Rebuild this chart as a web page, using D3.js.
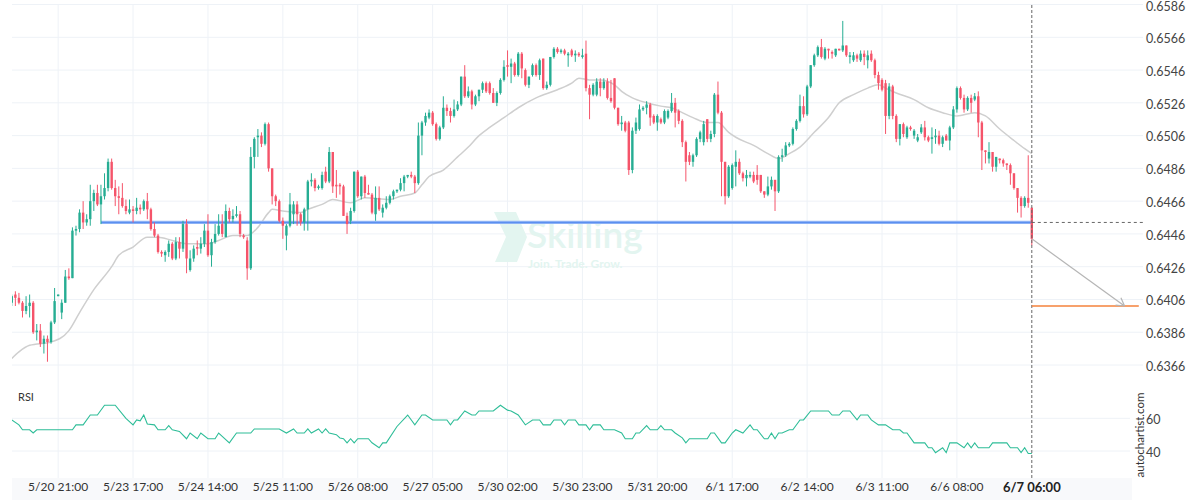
<!DOCTYPE html>
<html><head><meta charset="utf-8">
<script src="https://cdn.jsdelivr.net/npm/d3@7"></script>
<style>
body{margin:0;background:#fff}
svg{display:block}
text{font-family:Lato,"Open Sans",sans-serif}
</style>
</head><body>
<svg id="chart" width="1200" height="500"></svg>
<script>
// ---------- data ----------
const xLabels = ["5/20 21:00","5/23 17:00","5/24 14:00","5/25 11:00","5/26 08:00","5/27 05:00","5/30 02:00","5/30 23:00","5/31 20:00","6/1 17:00","6/2 14:00","6/3 11:00","6/6 08:00","6/7 06:00"];
const xLabelIdx = [13,34,55,76,97,118,139,160,181,202,223,244,265,286];
const priceTicks = [0.6586,0.6566,0.6546,0.6526,0.6506,0.6486,0.6466,0.6446,0.6426,0.6406,0.6386,0.6366];
const rsiTicks = [60,40];

const open = [
.6404,.6409,.6407,.6404,.6399,.6402,.6404,.6386,.6387,.6379,
.6382,.6380,.6392,.6408,.6398,.6404,.6420,.6419,.6448,.6449,
.6459,.6453,.6455,.6466,.6471,.6464,.6469,.6474,.6490,.6474,
.6469,.6468,.6463,.6459,.6461,.6460,.6462,.6461,.6466,.6461,
.6449,.6445,.6435,.6433,.6435,.6440,.6431,.6441,.6437,.6452,
.6424,.6431,.6438,.6437,.6440,.6448,.6433,.6441,.6446,.6452,
.6444,.6460,.6455,.6457,.6458,.6445,.6442,.6425,.6493,.6505,
.6506,.6501,.6513,.6486,.6469,.6466,.6454,.6445,.6451,.6458,
.6464,.6458,.6453,.6461,.6478,.6479,.6474,.6474,.6484,.6478,
.6496,.6476,.6476,.6475,.6457,.6454,.6460,.6484,.6469,.6481,
.6471,.6470,.6458,.6468,.6459,.6462,.6465,.6469,.6472,.6473,
.6477,.6481,.6482,.6481,.6477,.6506,.6514,.6517,.6520,.6513,
.6504,.6511,.6523,.6521,.6518,.6522,.6525,.6542,.6530,.6533,
.6525,.6530,.6534,.6538,.6538,.6532,.6526,.6532,.6540,.6549,
.6548,.6550,.6543,.6556,.6546,.6537,.6543,.6549,.6543,.6553,
.6535,.6537,.6554,.6559,.6557,.6558,.6555,.6558,.6555,.6556,
.6554,.6556,.6535,.6531,.6531,.6539,.6535,.6539,.6529,.6541,
.6523,.6513,.6514,.6514,.6485,.6509,.6510,.6522,.6523,.6525,
.6518,.6514,.6516,.6514,.6517,.6521,.6526,.6521,.6515,.6502,
.6494,.6490,.6494,.6504,.6502,.6516,.6504,.6507,.6531,.6520,
.6490,.6469,.6474,.6487,.6490,.6483,.6480,.6481,.6482,.6482,
.6482,.6472,.6470,.6475,.6479,.6472,.6493,.6494,.6500,.6501,
.6510,.6515,.6524,.6519,.6536,.6549,.6555,.6560,.6553,.6559,
.6557,.6555,.6559,.6558,.6561,.6554,.6552,.6555,.6552,.6556,
.6552,.6556,.6552,.6543,.6540,.6538,.6518,.6536,.6518,.6504,
.6513,.6505,.6511,.6506,.6503,.6508,.6511,.6505,.6504,.6505,
.6506,.6501,.6506,.6503,.6511,.6522,.6535,.6529,.6522,.6529,
.6528,.6530,.6514,.6497,.6492,.6496,.6487,.6492,.6491,.6489,
.6488,.6483,.6474,.6468,.6463,.6468,.6462];
const high = [
.6409,.6411,.6410,.6405,.6408,.6409,.6405,.6391,.6391,.6384,
.6384,.6393,.6413,.6409,.6406,.6424,.6425,.6450,.6451,.6461,
.6466,.6458,.6476,.6473,.6476,.6476,.6483,.6492,.6492,.6479,
.6475,.6477,.6467,.6467,.6463,.6468,.6464,.6467,.6471,.6462,
.6453,.6446,.6436,.6436,.6442,.6441,.6444,.6444,.6454,.6455,
.6436,.6439,.6442,.6444,.6452,.6458,.6443,.6452,.6458,.6458,
.6464,.6462,.6461,.6463,.6460,.6446,.6444,.6499,.6505,.6510,
.6508,.6514,.6514,.6486,.6470,.6467,.6456,.6452,.6471,.6466,
.6466,.6459,.6462,.6479,.6483,.6480,.6476,.6484,.6487,.6499,
.6496,.6485,.6477,.6476,.6459,.6462,.6484,.6485,.6481,.6482,
.6476,.6471,.6475,.6475,.6464,.6469,.6470,.6473,.6473,.6480,
.6482,.6482,.6484,.6482,.6514,.6515,.6520,.6522,.6521,.6514,
.6512,.6530,.6525,.6523,.6528,.6527,.6542,.6549,.6536,.6534,
.6531,.6534,.6539,.6539,.6539,.6535,.6533,.6541,.6552,.6558,
.6553,.6551,.6557,.6557,.6547,.6542,.6550,.6550,.6553,.6553,
.6539,.6554,.6560,.6560,.6559,.6559,.6557,.6559,.6558,.6557,
.6559,.6564,.6537,.6538,.6541,.6541,.6541,.6541,.6540,.6541,
.6523,.6518,.6515,.6515,.6511,.6517,.6525,.6524,.6527,.6526,
.6519,.6519,.6517,.6522,.6522,.6532,.6529,.6522,.6516,.6503,
.6496,.6495,.6505,.6509,.6515,.6516,.6509,.6532,.6539,.6521,
.6490,.6488,.6489,.6497,.6492,.6484,.6485,.6484,.6484,.6488,
.6482,.6472,.6481,.6481,.6479,.6494,.6498,.6502,.6502,.6511,
.6516,.6531,.6530,.6537,.6549,.6556,.6561,.6565,.6560,.6559,
.6558,.6559,.6559,.6576,.6561,.6557,.6557,.6556,.6558,.6558,
.6558,.6558,.6553,.6545,.6541,.6540,.6538,.6537,.6519,.6513,
.6514,.6512,.6512,.6510,.6507,.6513,.6515,.6506,.6511,.6510,
.6509,.6506,.6507,.6512,.6524,.6536,.6536,.6531,.6530,.6531,
.6532,.6533,.6515,.6497,.6502,.6496,.6493,.6492,.6492,.6489,
.6489,.6483,.6474,.6469,.6469,.6494,.6462];
const low = [
.6402,.6402,.6403,.6395,.6397,.6395,.6385,.6381,.6377,.6373,
.6368,.6379,.6391,.6408,.6394,.6404,.6418,.6419,.6445,.6447,
.6449,.6451,.6451,.6460,.6463,.6452,.6467,.6472,.6473,.6463,
.6458,.6462,.6458,.6458,.6453,.6458,.6458,.6460,.6455,.6448,
.6444,.6434,.6432,.6429,.6432,.6430,.6430,.6431,.6435,.6422,
.6423,.6429,.6433,.6434,.6438,.6432,.6426,.6440,.6445,.6444,
.6444,.6453,.6453,.6456,.6444,.6443,.6418,.6424,.6486,.6493,
.6499,.6500,.6484,.6464,.6463,.6453,.6443,.6436,.6450,.6452,
.6451,.6451,.6448,.6448,.6475,.6472,.6473,.6473,.6477,.6477,
.6471,.6468,.6470,.6457,.6446,.6452,.6459,.6468,.6467,.6468,
.6470,.6458,.6454,.6460,.6456,.6461,.6464,.6467,.6471,.6472,
.6472,.6480,.6480,.6471,.6476,.6494,.6512,.6516,.6512,.6503,
.6503,.6510,.6518,.6514,.6517,.6521,.6524,.6529,.6529,.6522,
.6524,.6527,.6532,.6532,.6531,.6526,.6524,.6531,.6539,.6542,
.6538,.6542,.6542,.6541,.6536,.6535,.6542,.6542,.6540,.6534,
.6534,.6536,.6553,.6556,.6556,.6555,.6548,.6554,.6551,.6554,
.6553,.6533,.6516,.6530,.6530,.6530,.6534,.6528,.6526,.6522,
.6512,.6509,.6508,.6482,.6483,.6507,.6509,.6521,.6519,.6512,
.6513,.6509,.6513,.6513,.6516,.6520,.6511,.6513,.6499,.6478,
.6488,.6487,.6493,.6502,.6500,.6502,.6502,.6505,.6519,.6469,
.6464,.6468,.6473,.6475,.6482,.6478,.6475,.6480,.6477,.6476,
.6471,.6468,.6469,.6473,.6460,.6471,.6490,.6493,.6499,.6500,
.6509,.6514,.6517,.6518,.6535,.6548,.6554,.6553,.6552,.6553,
.6553,.6554,.6558,.6557,.6554,.6550,.6551,.6551,.6551,.6549,
.6547,.6551,.6541,.6534,.6533,.6507,.6516,.6516,.6502,.6500,
.6505,.6504,.6509,.6504,.6502,.6507,.6503,.6502,.6495,.6501,
.6500,.6499,.6503,.6497,.6510,.6520,.6528,.6520,.6521,.6520,
.6527,.6505,.6485,.6489,.6489,.6484,.6484,.6489,.6487,.6485,
.6476,.6473,.6459,.6456,.6462,.6462,.6439];
const close = [
.6408,.6407,.6404,.6399,.6402,.6404,.6386,.6387,.6379,.6382,
.6380,.6392,.6405,.6409,.6404,.6420,.6419,.6448,.6449,.6459,
.6453,.6455,.6466,.6471,.6464,.6469,.6474,.6490,.6474,.6469,
.6468,.6463,.6460,.6461,.6460,.6462,.6461,.6466,.6461,.6449,
.6445,.6435,.6434,.6435,.6440,.6431,.6441,.6437,.6452,.6431,
.6431,.6437,.6437,.6440,.6448,.6433,.6441,.6446,.6451,.6446,
.6460,.6455,.6457,.6458,.6446,.6444,.6425,.6493,.6504,.6506,
.6501,.6513,.6486,.6469,.6466,.6454,.6451,.6451,.6464,.6464,
.6458,.6453,.6461,.6478,.6479,.6474,.6475,.6482,.6478,.6496,
.6475,.6475,.6475,.6457,.6452,.6460,.6484,.6469,.6481,.6471,
.6470,.6459,.6468,.6461,.6462,.6465,.6469,.6472,.6473,.6477,
.6481,.6482,.6481,.6477,.6506,.6514,.6518,.6520,.6513,.6504,
.6511,.6523,.6521,.6518,.6522,.6525,.6542,.6530,.6533,.6525,
.6530,.6534,.6538,.6533,.6532,.6526,.6532,.6540,.6548,.6548,
.6550,.6543,.6556,.6547,.6537,.6542,.6549,.6543,.6552,.6535,
.6537,.6554,.6559,.6557,.6558,.6556,.6556,.6555,.6556,.6555,
.6555,.6535,.6531,.6537,.6539,.6535,.6539,.6529,.6527,.6523,
.6513,.6514,.6509,.6485,.6509,.6514,.6522,.6523,.6525,.6517,
.6514,.6518,.6514,.6521,.6521,.6526,.6520,.6515,.6502,.6490,
.6490,.6494,.6504,.6508,.6513,.6504,.6507,.6531,.6520,.6490,
.6469,.6487,.6488,.6490,.6483,.6480,.6482,.6482,.6478,.6479,
.6472,.6470,.6475,.6479,.6472,.6493,.6494,.6500,.6501,.6510,
.6515,.6524,.6519,.6536,.6549,.6555,.6560,.6554,.6559,.6558,
.6556,.6559,.6558,.6561,.6555,.6555,.6555,.6553,.6556,.6554,
.6555,.6552,.6543,.6538,.6534,.6518,.6536,.6518,.6504,.6513,
.6507,.6511,.6510,.6509,.6505,.6511,.6505,.6503,.6505,.6506,
.6501,.6505,.6503,.6511,.6522,.6535,.6529,.6522,.6529,.6526,
.6530,.6514,.6497,.6496,.6496,.6487,.6493,.6491,.6489,.6488,
.6483,.6474,.6468,.6463,.6468,.6465,.6443];

// moving average (read at these candle indices)
const maIdx = [0,2,5,11,16,19,23,28,30,34,38,41,45,49,55,58,62,66,69,72,73,76,81,83,87,90,95,99,106,109,113,115,117,121,125,128,131,134,138,142,147,153,157,159,162,165,169,171,174,178,182,185,188,191,195,198,201,203,208,212,215,218,221,225,229,232,236,240,243,245,248,253,257,261,265,270,273,277,281,284,286];
const maVal = [.6370,.6374,.6378,.6380,.6387,.6398,.6412,.6426,.6433,.6438,.6444,.6444,.6442,.6440,.6440,.6442,.6445,.6445,.6450,.6459,.6461,.6460,.6459,.6461,.6464,.6467,.6465,.6468,.6467,.6469,.6471,.6476,.6481,.6485,.6493,.6499,.6506,.6511,.6517,.6523,.6529,.6534,.6538,.6541,.6540,.6540,.6537,.6533,.6529,.6526,.6524,.6523,.6520,.6517,.6514,.6514,.6508,.6505,.6500,.6495,.6492,.6495,.6499,.6508,.6517,.6526,.6531,.6535,.6537,.6535,.6532,.6528,.6523,.6520,.6518,.6520,.6518,.6510,.6503,.6498,.6495];

// RSI (read at these candle indices)
const rsiIdx = [0,2,3,5,6,7,13,17,18,20,22,24,26,29,32,34,35,36,37,38,40,41,43,44,45,47,49,50,52,53,55,57,58,59,61,63,67,68,75,77,79,80,82,83,84,86,87,88,89,91,92,93,94,95,96,97,100,101,103,104,105,108,111,113,115,116,118,122,123,124,125,127,129,130,131,135,137,139,140,142,144,146,148,149,151,152,154,155,156,158,159,161,162,163,165,166,169,171,172,174,175,176,178,179,181,182,183,185,186,188,189,190,195,196,197,199,200,202,203,205,207,208,209,211,212,213,214,215,216,218,219,221,222,224,229,230,232,233,235,237,238,240,241,243,245,247,249,250,251,253,256,257,258,259,261,262,263,265,267,268,269,270,271,274,275,279,280,282,283,284,285,286];
const rsiVal = [59,56,53,53,51,53,53,53,56,56,62,62,68,68,60,56,59,58.5,62,56.5,56,53,53,55.5,53,52,47.5,51,47.5,51,47.5,47.5,51,49,45,51,51,53.5,53.5,51,53.5,51,51,53.5,51,53.5,51,53.5,51,50,48,47.5,45,47.5,45,47.5,47.5,45,42,45,45,55,62,56,62,62,59,59,56,59,59,64.5,62,62,64.5,64.5,68,65,64.5,62,56,59,59,56,56,59,59,56,59,59,56,56,53,56,56,53,53,51,47.5,47.5,51,51,55.5,53,53,55.5,53,53,51,48,45,47.5,47.5,51,51,45,45,51,53,51,56,53,53,47.5,47.5,51,47.5,51,51,53,53,59,59,64.5,64.5,62,62,64.5,64.5,59,62,62,59,56,56,53,53,51,51,45,45,42,42,39,42,39,45,45,42,45,42,45,42,42,45,45,42,42,39,42,38.5,38.5];

const levelPrice = 0.6453, levelStartIdx = 25;
const targetPrice = 0.6402, arrowEndIdx = 312, targetEndIdx = 316;

// ---------- drawing ----------
const svg = d3.select("#chart");
const W = 1200, H = 500;
const plotL = 12, plotR = 1143, plotT = 5, axisBandT = 478;

const x = d3.scaleLinear().domain([0, open.length - 1]).range([11.8, 1031.8]);
const y = d3.scaleLinear().domain([0.6366, 0.6566]).range([365, 37.3]);
const yr = d3.scaleLinear().domain([40, 60]).range([451, 418.3]);

svg.append("defs").append("clipPath").attr("id","clip")
  .append("rect").attr("x",plotL).attr("y",plotT).attr("width",plotR-plotL).attr("height",axisBandT-plotT);

// x-axis band
svg.append("rect").attr("x",plotL).attr("y",axisBandT).attr("width",1132-plotL).attr("height",H-axisBandT).attr("fill","#f8f9fb");

const grid = svg.append("g").attr("stroke","#eef2f7").attr("stroke-width",1);
grid.selectAll("line.h").data(priceTicks).join("line")
  .attr("x1",plotL).attr("x2",plotR).attr("y1",d=>y(d)).attr("y2",d=>y(d));
grid.selectAll("line.r").data(rsiTicks).join("line").attr("class","r")
  .attr("x1",plotL).attr("x2",1130).attr("y1",d=>yr(d)).attr("y2",d=>yr(d));
grid.selectAll("line.v").data(xLabelIdx.slice(0,-1)).join("line").attr("class","v")
  .attr("x1",d=>x(d)).attr("x2",d=>x(d)).attr("y1",plotT).attr("y2",axisBandT);

// watermark
const wm = svg.append("g").attr("fill","#e3f5f0");
wm.append("path").attr("d","M494,212 L516,212 L527,237 L517,262 L495,262 L506,237 Z");
wm.append("text").attr("x",527).attr("y",248).attr("font-size",37).attr("font-weight",600).text("Skilling");
wm.append("text").attr("x",528).attr("y",268).attr("font-size",12).attr("font-weight",700).text("Join. Trade. Grow.");

const plot = svg.append("g").attr("clip-path","url(#clip)");

// moving average
const ma = maIdx.map((d,i)=>[x(d), y(maVal[i])]);
plot.append("path").attr("d", d3.line().curve(d3.curveMonotoneX)(ma))
  .attr("fill","none").attr("stroke","#cfcfcf").attr("stroke-width",1.5);

// level line
plot.append("line").attr("x1",x(levelStartIdx)).attr("x2",x(open.length-1))
  .attr("y1",y(levelPrice)).attr("y2",y(levelPrice))
  .attr("stroke","#9dbdf7").attr("stroke-width",3.2);
plot.append("line").attr("x1",x(levelStartIdx)).attr("x2",x(open.length-1))
  .attr("y1",y(levelPrice)).attr("y2",y(levelPrice))
  .attr("stroke","#5b8ff0").attr("stroke-width",1.4);

// candles
const up = "#26ad93", dn = "#f5546a";
const idx = d3.range(open.length);
const bw = 2.4;
const cg = plot.append("g");
cg.selectAll("line").data(idx).join("line")
  .attr("x1",i=>x(i)).attr("x2",i=>x(i))
  .attr("y1",i=>y(high[i])).attr("y2",i=>y(low[i]))
  .attr("stroke",i=>close[i]>=open[i]?up:dn).attr("stroke-width",1);
cg.selectAll("rect").data(idx).join("rect")
  .attr("x",i=>x(i)-bw/2).attr("width",bw)
  .attr("y",i=>y(Math.max(open[i],close[i])))
  .attr("height",i=>Math.max(1,Math.abs(y(open[i])-y(close[i]))))
  .attr("fill",i=>close[i]>=open[i]?up:dn);

// RSI
const rsiPts = rsiIdx.map((d,i)=>[x(d), yr(rsiVal[i])]);
plot.append("path").attr("d", d3.line()(rsiPts))
  .attr("fill","none").attr("stroke","#2ebd98").attr("stroke-width",1.1);

// projection
const lastI = open.length-1;
svg.append("line").attr("x1",x(lastI)).attr("x2",plotR).attr("y1",y(levelPrice)).attr("y2",y(levelPrice))
  .attr("stroke","#666").attr("stroke-dasharray","3,3").attr("stroke-width",1);
svg.append("line").attr("x1",x(lastI)).attr("x2",x(lastI)).attr("y1",plotT).attr("y2",axisBandT)
  .attr("stroke","#666").attr("stroke-dasharray","3,2").attr("stroke-width",1);
svg.append("line").attr("x1",x(lastI)).attr("x2",x(targetEndIdx)).attr("y1",y(targetPrice)).attr("y2",y(targetPrice))
  .attr("stroke","#f5823b").attr("stroke-width",1.5);
const ax0 = x(lastI), ay0 = y(close[lastI]), ax1 = x(arrowEndIdx), ay1 = y(targetPrice);
svg.append("line").attr("x1",ax0).attr("y1",ay0).attr("x2",ax1).attr("y2",ay1)
  .attr("stroke","#b5b5b5").attr("stroke-width",1.2);
const ang = Math.atan2(ay1-ay0, ax1-ax0), hl = 9;
[ang+Math.PI*0.83, ang-Math.PI*0.83].forEach(a=>{
  svg.append("line").attr("x1",ax1).attr("y1",ay1)
    .attr("x2",ax1+hl*Math.cos(a)).attr("y2",ay1+hl*Math.sin(a))
    .attr("stroke","#b5b5b5").attr("stroke-width",1.2);
});

// price axis labels
svg.append("g").selectAll("text").data(priceTicks).join("text")
  .attr("x",1146).attr("y",d=>Math.max(y(d)+1.5, 7)).attr("dy","0.35em")
  .attr("font-size",12.5).attr("fill","#444").text(d=>d.toFixed(4));
// rsi labels
svg.append("g").selectAll("text").data(rsiTicks).join("text")
  .attr("x",1146).attr("y",d=>yr(d)+1.5).attr("dy","0.35em")
  .attr("font-size",12.5).attr("fill","#444").text(d=>d);
svg.append("text").attr("x",18).attr("y",397).attr("dy","0.35em").attr("font-size",11).attr("fill","#333").text("RSI");
svg.append("text").attr("transform","translate(1140,435) rotate(-90)").attr("text-anchor","middle").attr("dy","0.35em")
  .attr("font-size",11.5).attr("fill","#333").text("autochartist.com");

// x labels
svg.append("g").selectAll("text").data(xLabels).join("text")
  .attr("x",(d,i)=>x(xLabelIdx[i])).attr("y",487).attr("dy","0.35em")
  .attr("text-anchor","middle")
  .attr("font-size",(d,i)=>i===xLabels.length-1?13:12)
  .attr("font-weight",(d,i)=>i===xLabels.length-1?700:400)
  .attr("fill",(d,i)=>i===xLabels.length-1?"#222":"#333")
  .text(d=>d);
</script>
</body></html>
